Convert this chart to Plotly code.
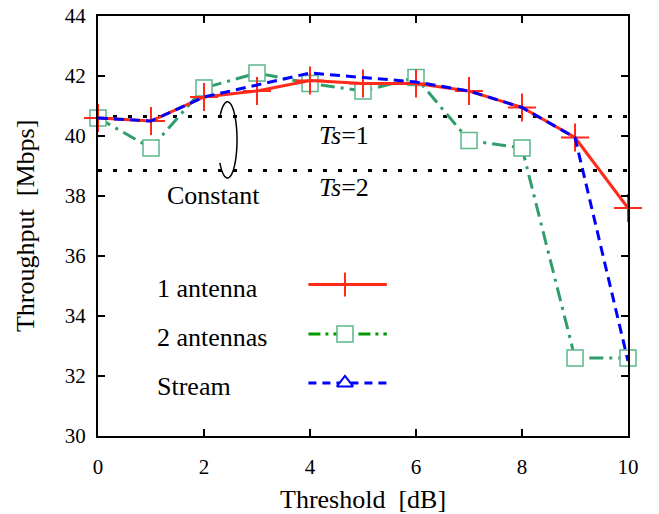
import numpy as np
import plotly.graph_objects as go

threshold = [0, 1, 2, 3, 4, 5, 6, 7, 8, 9, 10]
one_antenna = [40.6, 40.5, 41.3, 41.5, 41.85, 41.75, 41.75, 41.5, 40.95, 39.95, 37.6]
two_antennas = [40.6, 39.6, 41.6, 42.1, 41.75, 41.5, 41.95, 39.85, 39.6, 32.6, 32.6]
stream = [40.6, 40.5, 41.3, 41.7, 42.1, 41.95, 41.8, 41.5, 40.95, 39.95, 32.5]
ts1_level = 40.65
ts2_level = 38.85
x_ticks = [0, 2, 4, 6, 8, 10]
y_ticks = [30, 32, 34, 36, 38, 40, 42, 44]
series_names = ["1 antenna", "2 antennas", "Stream"]
x_title = "Threshold  [dB]"
y_title = "Throughput  [Mbps]"

RED = "#ff2a1a"
GREEN = "#2e9e6b"
GREEN_MK = "#5cb88a"
GREEN_LEG = "#009a00"
BLUE = "#0000ff"
FONT = "'Liberation Serif', 'Times New Roman', Times, serif"

fig = go.Figure()

# constant-level dotted lines
for lvl in (ts1_level, ts2_level):
    fig.add_trace(go.Scatter(x=[0, 10], y=[lvl, lvl], mode="lines",
                             line=dict(color="black", width=3, dash="4px,11px"),
                             showlegend=False, hoverinfo="skip"))

fig.add_trace(go.Scatter(x=threshold, y=two_antennas, mode="lines+markers", cliponaxis=False,
                         line=dict(color=GREEN, width=3, dash="14px,6px,3px,6px"),
                         marker=dict(symbol="square", size=16, color="white",
                                     line=dict(width=1.5, color=GREEN_MK)),
                         showlegend=False))
fig.add_trace(go.Scatter(x=threshold, y=one_antenna, mode="lines+markers", cliponaxis=False,
                         line=dict(color=RED, width=3),
                         marker=dict(symbol="cross-thin-open", size=20, color=RED,
                                     line=dict(width=2, color=RED)),
                         showlegend=False))
fig.add_trace(go.Scatter(x=threshold, y=stream, mode="lines", cliponaxis=False,
                         line=dict(color=BLUE, width=3, dash="10px,6px"),
                         showlegend=False))

# manual legend (text left, sample right)
legend_rows = [35.05, 33.4, 31.77]
legend_style = [(RED, "solid", "cross-thin-open", RED, RED, 17),
                (GREEN_LEG, "12px,5px,3px,5px", "square", "white", GREEN_MK, 16),
                (BLUE, "8px,6px", "triangle-up", "white", BLUE, 14)]
for name, yv, (col, dash, sym, fill, mcol, msz) in zip(series_names, legend_rows, legend_style):
    fig.add_trace(go.Scatter(x=[3.97, 5.45], y=[yv, yv], mode="lines", cliponaxis=False,
                             line=dict(color=col, width=3, dash=dash),
                             showlegend=False, hoverinfo="skip"))
    fig.add_trace(go.Scatter(x=[4.66], y=[yv], mode="markers", cliponaxis=False,
                             marker=dict(symbol=sym, size=msz, color=fill,
                                         line=dict(width=2 if sym != "square" else 1.5, color=mcol)),
                             showlegend=False, hoverinfo="skip"))
    fig.add_annotation(x=1.07, y=yv - 0.12, text=name, showarrow=False, xanchor="left",
                       yanchor="middle", font=dict(family=FONT, size=26, color="black"))

fig.add_annotation(x=4.64, y=40.03, text="<i>Ts</i>=1", showarrow=False,
                   font=dict(family=FONT, size=26, color="black"))
fig.add_annotation(x=4.64, y=38.3, text="<i>Ts</i>=2", showarrow=False,
                   font=dict(family=FONT, size=26, color="black"))
fig.add_annotation(x=2.17, y=38.03, text="Constant", showarrow=False,
                   font=dict(family=FONT, size=26, color="black"))

# axis titles
fig.add_annotation(xref="paper", yref="paper", x=0.5, y=-0.152, text=x_title, showarrow=False,
                   xanchor="center", yanchor="middle", font=dict(family=FONT, size=26, color="black"))
fig.add_annotation(xref="paper", yref="paper", x=-0.1377, y=0.5, text=y_title, showarrow=False,
                   textangle=-90, xanchor="center", yanchor="middle",
                   font=dict(family=FONT, size=26, color="black"))

# bracket ellipse grouping the two constant lines (open on the left side)
cx, cy, rx, ry = 2.443, 39.87, 0.18, 1.27
ang = np.radians(np.linspace(217, 139 + 360, 80))
ex, ey = cx + rx * np.cos(ang), cy + ry * np.sin(ang)
path = "M " + " L ".join(f"{a:.4f},{b:.4f}" for a, b in zip(ex, ey))
fig.add_shape(type="path", xref="x", yref="y", path=path, line=dict(color="black", width=1.5))

axis_common = dict(showgrid=False, zeroline=False, showline=True, linecolor="black",
                   linewidth=2, mirror="ticks", ticks="inside", ticklen=7, tickwidth=2,
                   tickcolor="black", automargin=False,
                   tickfont=dict(family=FONT, size=21, color="black"))

fig.update_xaxes(range=[0, 10], tickvals=x_ticks, **axis_common, ticklabelstandoff=11)
fig.update_yaxes(range=[30, 44], tickvals=y_ticks, **axis_common, ticklabelstandoff=6)

fig.update_layout(width=659, height=514, margin=dict(l=98, r=31, t=16, b=78),
                  plot_bgcolor="white", paper_bgcolor="white", showlegend=False)

fig.write_html("out.html")
